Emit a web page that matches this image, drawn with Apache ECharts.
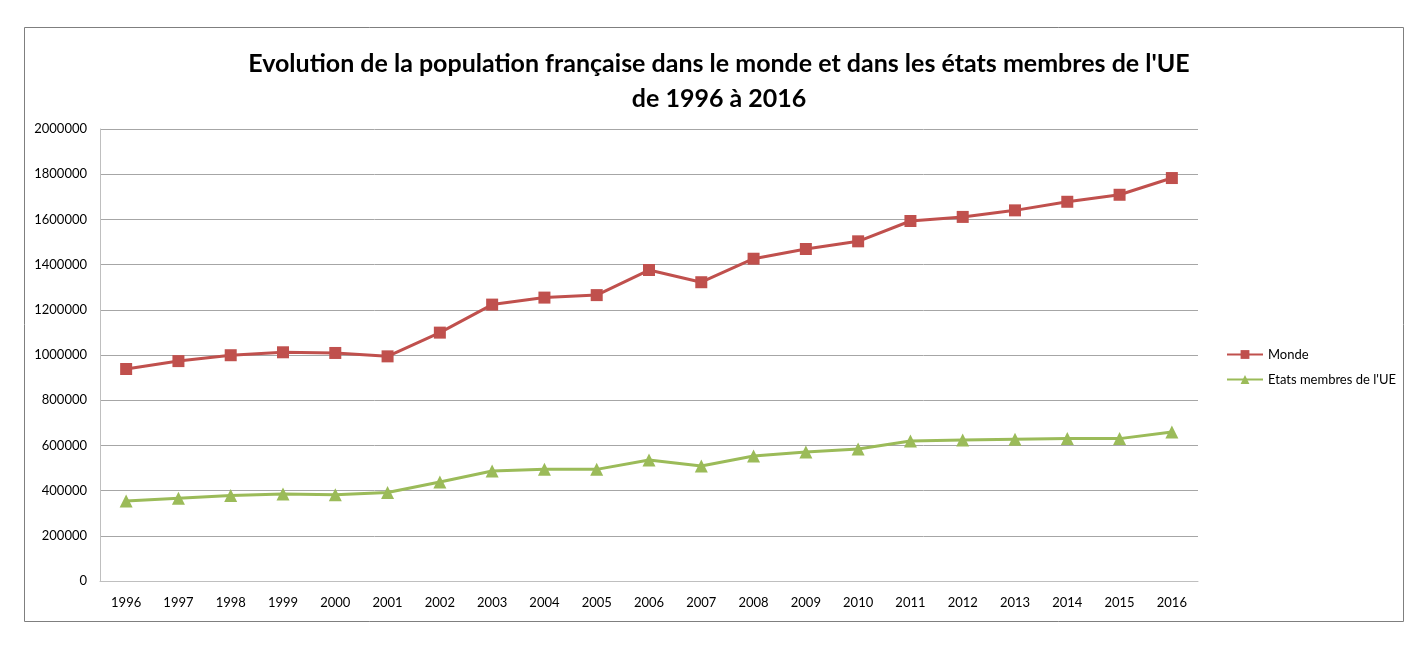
<!DOCTYPE html>
<html>
<head>
<meta charset="utf-8">
<script src="https://cdn.jsdelivr.net/npm/echarts@6/dist/echarts.min.js"></script>
<style>
html,body{margin:0;padding:0;background:#fff;}
#chart{width:1426px;height:649px;}
</style>
</head>
<body>
<div id="chart"></div>
<script>
const years = ['1996','1997','1998','1999','2000','2001','2002','2003','2004','2005','2006','2007','2008','2009','2010','2011','2012','2013','2014','2015','2016'];
const monde = [938000,973000,999000,1012000,1009000,994000,1099000,1223000,1254000,1265000,1376000,1322000,1426000,1469000,1503000,1593000,1611000,1640000,1678000,1709000,1783000];
const ue = [354000,366000,378000,385000,382000,392000,438000,487000,494000,494000,535000,509000,553000,571000,584000,619000,624000,627000,630000,630000,659000];
const seriesNames = ['Monde', "Etats membres de l'UE"];
const titleText = "Evolution de la population française dans le monde et dans les états membres de l'UE\nde 1996 à 2016";

const chart = echarts.init(document.getElementById('chart'));
const font = 'Lato, "Open Sans", sans-serif';
chart.setOption({
  animation: false,
  backgroundColor: '#fff',
  graphic: [{
    type: 'rect',
    shape: {x: 24.5, y: 27.5, width: 1379, height: 594},
    style: {fill: 'none', stroke: '#7f7f7f', lineWidth: 1},
    silent: true
  }],
  title: {
    text: titleText,
    left: 714,
    top: 41,
    textAlign: 'center',
    textStyle: {fontFamily: font, fontWeight: 'bold', fontSize: 25, color: '#000', lineHeight: 35}
  },
  legend: {
    orient: 'vertical',
    left: 1221,
    top: 343,
    itemGap: 12,
    itemWidth: 36,
    itemHeight: 11,
    textStyle: {fontFamily: font, fontSize: 13, color: '#000'},
    data: seriesNames
  },
  grid: {left: 100, top: 129, width: 1098, height: 452, containLabel: false},
  xAxis: {
    type: 'category',
    data: years,
    boundaryGap: true,
    axisLine: {lineStyle: {color: '#bfbfbf', width: 1}},
    axisTick: {show: false},
    axisLabel: {fontFamily: font, fontSize: 13, color: '#000', margin: 15}
  },
  yAxis: {
    type: 'value',
    min: 0,
    max: 2000000,
    interval: 200000,
    axisLine: {show: true, lineStyle: {color: '#bfbfbf', width: 1}},
    axisTick: {show: false},
    splitLine: {lineStyle: {color: '#a6a6a6', width: 1}},
    axisLabel: {fontFamily: font, fontSize: 13, color: '#000', margin: 13, formatter: v => String(v)}
  },
  series: [
    {
      name: seriesNames[0],
      type: 'line',
      data: monde,
      symbol: 'rect',
      symbolSize: 12,
      lineStyle: {color: '#c0504d', width: 3},
      itemStyle: {color: '#c0504d'}
    },
    {
      name: seriesNames[1],
      type: 'line',
      data: ue,
      symbol: 'triangle',
      symbolSize: 13,
      lineStyle: {color: '#9bbb59', width: 3},
      itemStyle: {color: '#9bbb59'}
    }
  ]
});
</script>
</body>
</html>
